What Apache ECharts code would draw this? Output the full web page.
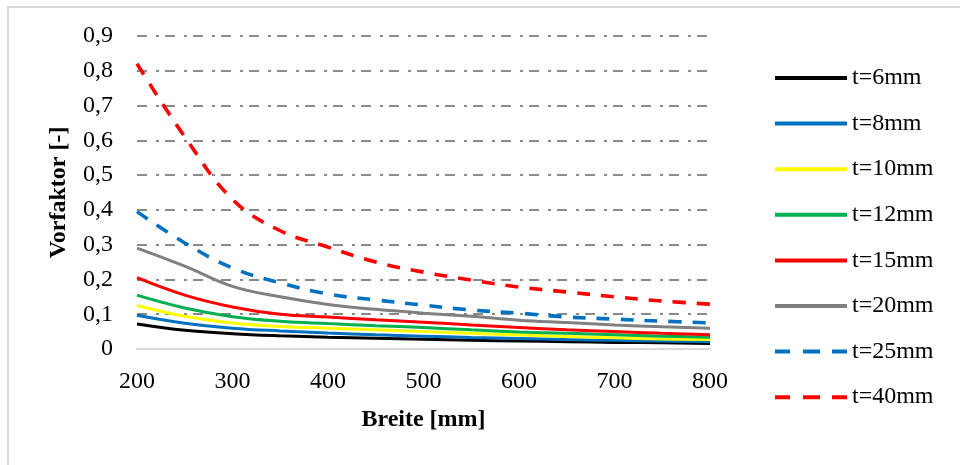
<!DOCTYPE html>
<html>
<head>
<meta charset="utf-8">
<script src="https://cdn.jsdelivr.net/npm/echarts@6/dist/echarts.min.js"></script>
<style>html,body{margin:0;padding:0;background:#fff}#c{width:960px;height:465px}</style>
</head>
<body>
<div id="c"></div>
<script>
const breite = [200,250,300,350,400,450,500,550,600,650,700,750,800];
const t6  = [0.072,0.054,0.044,0.038,0.034,0.031,0.028,0.025,0.023,0.021,0.019,0.018,0.016];
const t8  = [0.097,0.074,0.060,0.052,0.046,0.041,0.037,0.033,0.030,0.027,0.025,0.023,0.021];
const t10 = [0.125,0.094,0.075,0.065,0.060,0.055,0.050,0.045,0.040,0.036,0.032,0.029,0.027];
const t12 = [0.155,0.118,0.093,0.080,0.073,0.067,0.062,0.055,0.049,0.045,0.041,0.037,0.034];
const t15 = [0.205,0.155,0.121,0.100,0.092,0.084,0.077,0.069,0.062,0.055,0.050,0.045,0.041];
const t20 = [0.290,0.238,0.180,0.150,0.128,0.114,0.103,0.094,0.083,0.076,0.069,0.064,0.060];
const t25 = [0.395,0.305,0.233,0.190,0.158,0.141,0.126,0.112,0.103,0.092,0.086,0.080,0.075];
const t40 = [0.820,0.610,0.430,0.340,0.293,0.250,0.221,0.198,0.178,0.164,0.150,0.138,0.129];
const names = ['t=6mm','t=8mm','t=10mm','t=12mm','t=15mm','t=20mm','t=25mm','t=40mm'];
const values = [t6,t8,t10,t12,t15,t20,t25,t40];
const colors = ['#000000','#0070c0','#ffff00','#00b050','#ff0000','#808080','#0070c0','#ff0000'];
const types = ['solid','solid','solid','solid','solid','solid',[13,11],[13,11]];

const dashIcon = 'path://M0,0h15v4h-15z M28,0h17v4h-17z M57,0h15v4h-15z';
const font = '"Liberation Serif","Times New Roman",serif';
const chart = echarts.init(document.getElementById('c'), null, {renderer:'canvas'});
chart.setOption({
  animation:false,
  backgroundColor:'#fff',
  textStyle:{fontFamily:font},
  graphic:[
    {type:'line',shape:{x1:7,y1:7,x2:960,y2:7},style:{stroke:'#d9d9d9',lineWidth:2}},
    {type:'line',shape:{x1:8,y1:7,x2:8,y2:465},style:{stroke:'#d9d9d9',lineWidth:2}}
  ],
  grid:{left:137,right:250,top:36,bottom:116,containLabel:false},
  legend:{
    orient:'vertical', left:775, top:66, padding:0, itemGap:21.6,
    itemWidth:72, itemHeight:4,
    data:names.map((n,i)=>({name:n, icon: Array.isArray(types[i]) ? dashIcon : 'rect',
      itemStyle:{color:colors[i], borderWidth:0}})),
    textStyle:{fontFamily:font,fontSize:24,color:'#000',lineHeight:24}
  },
  xAxis:{
    type:'value', min:200, max:800, interval:100,
    name:'Breite [mm]', nameLocation:'middle', nameGap:59,
    nameTextStyle:{fontFamily:font,fontSize:24,fontWeight:'bold',color:'#000'},
    axisLine:{show:true,lineStyle:{color:'#d9d9d9',width:2}},
    axisTick:{show:false},
    axisLabel:{fontFamily:font,fontSize:24,color:'#000',margin:21},
    splitLine:{show:false}
  },
  yAxis:{
    type:'value', min:0, max:0.9, interval:0.1,
    name:'Vorfaktor [-]', nameLocation:'middle', nameGap:66,
    nameTextStyle:{fontFamily:font,fontSize:24,fontWeight:'bold',color:'#000'},
    axisLine:{show:false}, axisTick:{show:false},
    axisLabel:{fontFamily:font,fontSize:24,color:'#000',margin:24,
      formatter:v=> v===0 ? '0' : v.toFixed(1).replace('.',',')},
    splitLine:{show:true,lineStyle:{color:'#898989',width:2,type:[10,9,3,6]}}
  },
  series: names.map((n,i)=>({
    name:n, type:'line', smooth:0.4, symbol:'none', showSymbol:false,
    data: breite.map((b,j)=>[b, values[i][j]]),
    lineStyle:{color:colors[i],width:Array.isArray(types[i]) ? 3.6 : 3,type:types[i]},
    itemStyle:{color:colors[i]},
    z: 2+i
  }))
});
</script>
</body>
</html>
